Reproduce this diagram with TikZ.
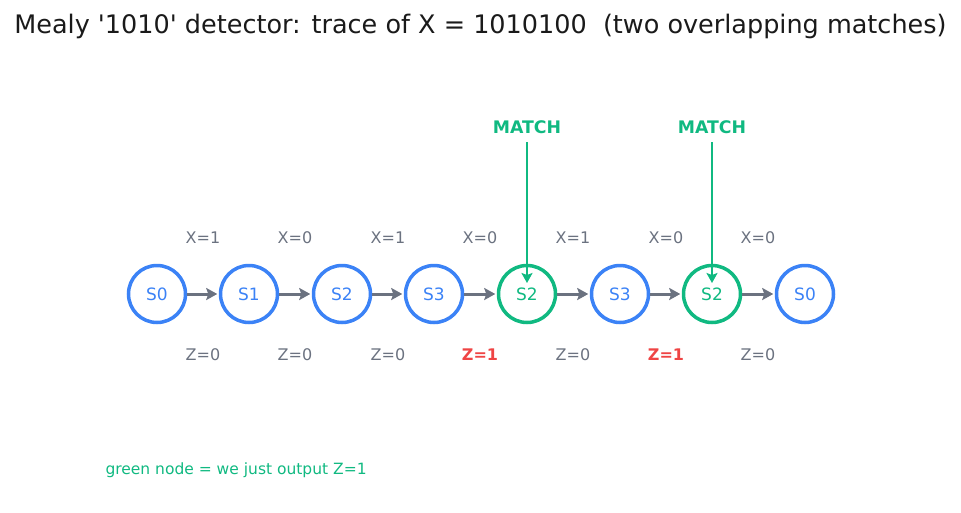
\documentclass[tikz,border=0pt]{standalone}
\usepackage{fontspec}
\setmainfont{DejaVu Sans}
\newfontfamily\plainquotes{DejaVu Sans}[Ligatures=TeXOff]
\usepackage{xcolor}
\usetikzlibrary{arrows.meta}
\usetikzlibrary{positioning}

\definecolor{stblue}{HTML}{3B82F6}
\definecolor{hitgreen}{HTML}{10B981}
\definecolor{zred}{HTML}{EF4444}
\definecolor{edgegray}{HTML}{6B7280}
\definecolor{titleink}{HTML}{1A1A1A}

\tikzset{
  state/.style={draw=stblue, circle, line width=3.5pt, minimum size=57pt, inner sep=0pt,
    text=stblue, font=\fontsize{17}{19}\selectfont},
  hitstate/.style={state, draw=hitgreen, text=hitgreen},
  trans/.style={draw=edgegray, line width=3pt, shorten >=1.5pt,
    -{Stealth[length=11pt,width=12pt,inset=2pt]}},
  inlbl/.style={text=edgegray, font=\fontsize{16}{18}\selectfont},
  outlbl/.style={text=edgegray, font=\fontsize{16}{18}\selectfont},
  hitlbl/.style={text=zred, font=\fontsize{16}{18}\selectfont\bfseries},
  matchlbl/.style={text=hitgreen, font=\fontsize{17.3}{19}\selectfont\bfseries},
  matcharrow/.style={draw=hitgreen, line width=2.6pt, -{Stealth[length=10pt,width=11pt,inset=2pt]}}
}

\begin{document}
\begin{tikzpicture}[x=1pt, y=-1pt]
\useasboundingbox (0,0) rectangle (961,512);

% Title
\node[text=titleink, font=\plainquotes\fontsize{25.5}{28}\selectfont] (title) at (480.5,26)
  {Mealy '1010' detector: trace of X = 1010100\ \ (two overlapping matches)};

% States of the trace
\node[state] (q0) at (157,294) {S0};
\node[state] (q1) at (249,294) {S1};
\node[state] (q2) at (342,294) {S2};
\node[state] (q3) at (434,294) {S3};
\node[hitstate] (q4) at (527,294) {S2};
\node[state] (q5) at (620,294) {S3};
\node[hitstate] (q6) at (712,294) {S2};
\node[state] (q7) at (805,294) {S0};

% Transitions
\draw[trans] (q0) -- (q1);
\draw[trans] (q1) -- (q2);
\draw[trans] (q2) -- (q3);
\draw[trans] (q3) -- (q4);
\draw[trans] (q4) -- (q5);
\draw[trans] (q5) -- (q6);
\draw[trans] (q6) -- (q7);

% Inputs (above)
\node[inlbl] (x1) at (203,238) {X=1};
\node[inlbl] (x2) at (295,238) {X=0};
\node[inlbl] (x3) at (388,238) {X=1};
\node[inlbl] (x4) at (480,238) {X=0};
\node[inlbl] (x5) at (573,238) {X=1};
\node[inlbl] (x6) at (666,238) {X=0};
\node[inlbl] (x7) at (758,238) {X=0};

% Outputs (below)
\node[outlbl] (z1) at (203,355) {Z=0};
\node[outlbl] (z2) at (295,355) {Z=0};
\node[outlbl] (z3) at (388,355) {Z=0};
\node[hitlbl] (z4) at (480,355) {Z=1};
\node[outlbl] (z5) at (573,355) {Z=0};
\node[hitlbl] (z6) at (666,355) {Z=1};
\node[outlbl] (z7) at (758,355) {Z=0};

% Match markers
\node[matchlbl] (m1) at (527,127) {MATCH};
\node[matchlbl] (m2) at (712,127) {MATCH};
\draw[matcharrow, shorten >=11pt] (m1.south) ++(0,5) coordinate (m1t) (m1t) -- (q4.center);
\draw[matcharrow, shorten >=11pt] (m2.south) ++(0,5) coordinate (m2t) (m2t) -- (q6.center);

% Note
\node[text=hitgreen, font=\fontsize{15.5}{17}\selectfont, anchor=west] (note) at (102,470)
  {green node = we just output Z=1};
\end{tikzpicture}
\end{document}
